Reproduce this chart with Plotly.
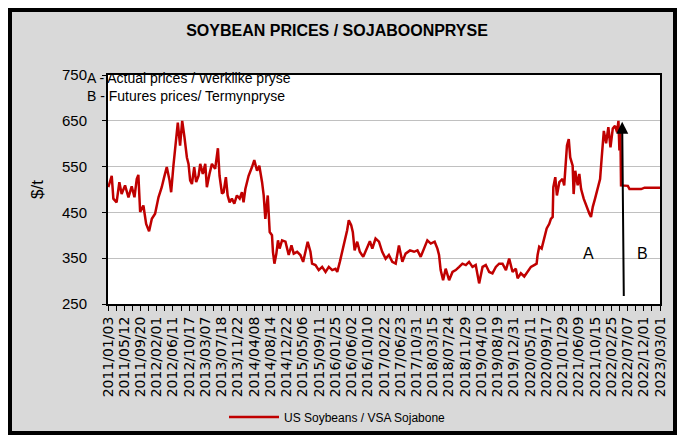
import plotly.graph_objects as go

# ---------------- data ----------------
tick_labels = [
    "2011/01/03", "2011/05/12", "2011/09/20", "2012/02/01", "2012/06/11",
    "2012/10/17", "2013/03/07", "2013/07/18", "2013/11/22", "2014/04/08",
    "2014/08/14", "2014/12/22", "2015/05/06", "2015/09/11", "2016/01/25",
    "2016/06/02", "2016/10/10", "2017/02/22", "2017/06/23", "2017/10/31",
    "2018/03/15", "2018/07/24", "2018/11/29", "2019/04/10", "2019/08/19",
    "2019/12/31", "2020/05/11", "2020/09/17", "2021/01/29", "2021/06/09",
    "2021/10/15", "2022/02/25", "2022/07/07", "2022/12/01", "2023/03/01",
]

# position along the category axis (in tick-label intervals) and price in $/t
x_pos = [
    0.02, 0.23, 0.33, 0.53, 0.70, 0.84, 1.05, 1.26, 1.46, 1.63, 1.77, 1.87, 1.98,
    2.18, 2.35, 2.53, 2.70, 2.90, 3.11, 3.31, 3.46, 3.62, 3.79, 3.89, 4.03, 4.20,
    4.30, 4.44, 4.57, 4.71, 4.86, 4.96, 5.06, 5.17, 5.31, 5.43, 5.58, 5.68, 5.84,
    5.99, 6.09, 6.25, 6.40, 6.60, 6.77, 6.87, 7.02, 7.12, 7.26, 7.37, 7.49, 7.63,
    7.78, 7.94, 8.11, 8.25, 8.35, 8.46, 8.66, 8.87, 9.01, 9.18, 9.32, 9.49, 9.59,
    9.69, 9.84, 9.96, 10.10, 10.16, 10.25, 10.37, 10.47, 10.57, 10.72, 10.93,
    11.13, 11.30, 11.44, 11.65, 11.85, 12.02, 12.16, 12.30, 12.47, 12.57, 12.78,
    12.98, 13.19, 13.40, 13.60, 13.81, 14.01, 14.12, 14.28, 14.42, 14.59, 14.73,
    14.83, 14.98, 15.08, 15.19, 15.35, 15.51, 15.72, 15.90, 16.13, 16.28, 16.48,
    16.69, 16.89, 17.10, 17.30, 17.51, 17.72, 17.92, 18.13, 18.33, 18.60, 18.85,
    19.06, 19.26, 19.42, 19.67, 19.88, 20.12, 20.29, 20.39, 20.49, 20.64, 20.80,
    21.01, 21.22, 21.42, 21.63, 21.83, 22.04, 22.24, 22.45, 22.65, 22.86, 23.07,
    23.27, 23.48, 23.68, 23.89, 24.09, 24.30, 24.51, 24.71, 24.92, 25.12, 25.23,
    25.43, 25.64, 25.85, 26.05, 26.25, 26.40, 26.46, 26.56, 26.71, 26.87, 27.02,
    27.18, 27.28, 27.39, 27.43, 27.55, 27.65, 27.80, 28.00, 28.10, 28.17, 28.27,
    28.38, 28.47, 28.62, 28.68, 28.78, 28.93, 29.03, 29.14, 29.30, 29.44, 29.65,
    29.75, 29.86, 30.00, 30.17, 30.31, 30.41, 30.54, 30.68, 30.82, 30.95, 31.09,
    31.23, 31.36, 31.44, 31.50, 31.56, 31.60, 32.02, 32.12, 32.84, 33.05, 34.00,
]
price = [
    505, 530, 480, 472, 516, 490, 509, 483, 507, 483, 523, 532, 451,
    465, 425, 409, 436, 447, 483, 505, 527, 549, 520, 494, 552, 610,
    646, 596, 650, 614, 570, 556, 520, 512, 549, 516, 530, 556, 534,
    556, 505, 534, 556, 545, 590, 530, 491, 494, 527, 487, 472, 480,
    469, 487, 480, 494, 472, 501, 530, 549, 564, 541, 552, 516, 487,
    436, 487, 407, 400, 364, 338, 360, 389, 371, 389, 386,
    357, 378, 360, 364, 357, 342, 367, 386, 364, 338, 335,
    324, 331, 320, 331, 324, 327, 320, 342, 364, 386, 411,
    433, 422, 407, 367, 386, 364, 353, 367, 387, 371, 393,
    386, 364, 349, 357, 342, 338, 378, 342, 360, 367, 364,
    367, 353, 367, 389, 382, 386, 371, 357, 324, 302, 327,
    302, 320, 324, 331, 338, 335, 342, 331, 335, 295, 331,
    335, 320, 317, 331, 338, 338, 324, 349, 320, 327, 306,
    317, 310, 320, 331, 335, 338, 357, 375, 371, 393, 415,
    425, 436, 440, 505, 527, 487, 516, 523, 509, 545, 596,
    610, 570, 552, 490, 541, 509, 534, 501, 480, 465, 447,
    440, 462, 480, 505, 523, 570, 628, 601, 636, 592, 633,
    639, 625, 650, 585, 628, 509, 508, 501, 501, 504, 504,
]

series_name = "US Soybeans / VSA Sojabone"
title_text = "SOYBEAN PRICES / SOJABOONPRYSE"
y_title = "$/t"
note_text = "A - Actual prices / Werklike pryse<br>B - Futures prices/ Termynpryse"

# arrow separating actual (A) and futures (B) prices
arrow_x_tail, arrow_y_tail = 31.77, 264
arrow_x_tip, arrow_y_tip = 31.67, 648
label_a = ("A", 29.57, 360)
label_b = ("B", 32.90, 360)

# ---------------- layout geometry ----------------
W, H = 684, 436
ML, MR, MT, MB = 108, 24, 75, 132
PW, PH = W - ML - MR, H - MT - MB


def px_x(px):
    return (px - ML) / PW


def px_y(py):
    return (H - MB - py) / PH


fig = go.Figure()
fig.add_trace(go.Scatter(
    x=x_pos, y=price, mode="lines", name=series_name,
    line=dict(color="#c00000", width=2.5),
))

tickvals = [i * 0.5 for i in range(2 * (len(tick_labels) - 1) + 1)]
ticktext = [tick_labels[i // 2] if i % 2 == 0 else "" for i in range(len(tickvals))]

fig.update_layout(
    width=W, height=H,
    margin=dict(l=ML, r=MR, t=MT, b=MB, pad=0, autoexpand=False),
    paper_bgcolor="white",
    plot_bgcolor="white",
    font=dict(family="Liberation Sans, Arial, sans-serif", color="black"),
    title=dict(text="<b>" + title_text + "</b>", x=337 / W, xref="container",
               y=1 - 30 / H, yref="container", xanchor="center", yanchor="middle",
               font=dict(size=16, family="Liberation Sans, Arial, sans-serif", color="black")),
    showlegend=True,
    legend=dict(orientation="h", x=px_x(224), y=px_y(417), xanchor="left", yanchor="middle",
                bgcolor="rgba(0,0,0,0)", font=dict(size=12), itemwidth=50),
    xaxis=dict(
        range=[0, len(tick_labels) - 1], tickmode="array", tickvals=tickvals, ticktext=ticktext,
        tickangle=-90, ticks="outside", ticklen=5, tickcolor="black", tickwidth=1,
        tickfont=dict(family="DejaVu Sans", size=14, color="black"),
        showgrid=False, zeroline=False, showline=True, linecolor="black", linewidth=2,
        mirror=True, automargin=False,
    ),
    yaxis=dict(
        range=[250, 750], tick0=250, dtick=100, ticks="outside", ticklen=4,
        tickcolor="black", tickfont=dict(size=15), ticklabelstandoff=12,
        showgrid=True, gridcolor="#c0c0c0", gridwidth=1, zeroline=False,
        showline=True, linecolor="black", linewidth=2, mirror=True, automargin=False,
        title=dict(text=y_title, font=dict(size=17), standoff=14),
    ),
    shapes=[
        dict(type="rect", xref="paper", yref="paper", layer="below",
             x0=px_x(10), x1=px_x(675), y0=px_y(433), y1=px_y(10),
             fillcolor="#d9d9d9", line=dict(color="black", width=4)),
        dict(type="rect", xref="paper", yref="paper", layer="below",
             x0=0, x1=1, y0=0, y1=1, fillcolor="white", line=dict(width=0)),
    ],
    annotations=[
        dict(text=note_text, xref="paper", yref="paper", x=px_x(85), y=px_y(68),
             xanchor="left", yanchor="top", align="left", showarrow=False,
             font=dict(size=14)),
        dict(text="", x=arrow_x_tip, y=arrow_y_tip, ax=arrow_x_tail, ay=arrow_y_tail,
             xref="x", yref="y", axref="x", ayref="y", showarrow=True,
             arrowhead=2, arrowsize=1.2, arrowwidth=2, arrowcolor="black"),
        dict(text=label_a[0], x=label_a[1], y=label_a[2], xref="x", yref="y",
             showarrow=False, font=dict(size=16)),
        dict(text=label_b[0], x=label_b[1], y=label_b[2], xref="x", yref="y",
             showarrow=False, font=dict(size=16)),
    ],
)

fig.write_html("out.html", config={"displayModeBar": False},
               post_script="document.body.style.margin='0';")
